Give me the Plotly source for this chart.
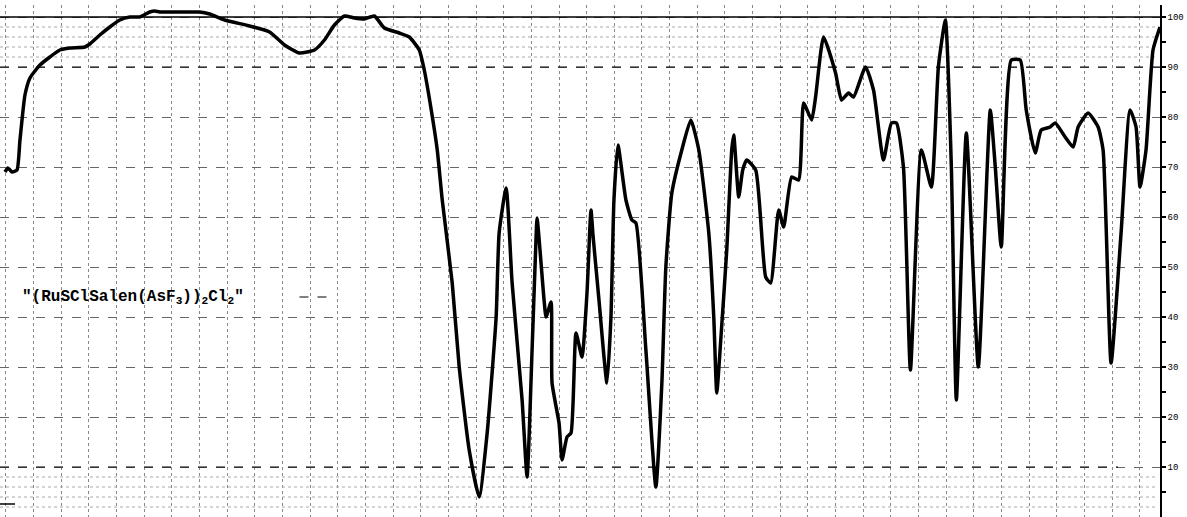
import plotly.graph_objects as go

# Position along the recorded scan (chart units, left -> right)
position = [5, 8, 12, 17, 20, 25, 30, 40, 50, 60, 70, 85, 90, 100, 110, 120, 130, 140, 150, 155,
            160, 180, 200, 210, 225, 250, 270, 285, 300, 315, 325, 335, 345, 355, 365, 375, 385,
            400, 410, 420, 425, 432, 438, 443, 453, 460, 470, 480, 488, 497, 500, 507, 513, 523,
            528, 533, 537, 538, 545, 547, 552, 553, 560, 563, 568, 572, 577, 583, 588, 592, 594,
            600, 608, 612, 615, 619, 627, 633, 637, 647, 657, 663, 667, 673, 683, 692, 700, 710,
            715, 718, 722, 728, 733, 735, 740, 744, 748, 757, 767, 772, 780, 785, 793, 800, 805,
            813, 817, 825, 837, 843, 850, 855, 867, 875, 885, 893, 898, 905, 912, 923, 933, 940,
            947, 953, 958, 968, 980, 992, 997, 1003, 1013, 1022, 1028, 1037, 1043, 1052, 1057,
            1067, 1075, 1080, 1090, 1100, 1105, 1113, 1123, 1132, 1138, 1142, 1148, 1155, 1162]

# Transmittance (%)
transmittance = [69.0, 69.8, 69.0, 69.4, 75.4, 84.4, 87.8, 90.4, 92.0, 93.4, 93.8, 94.0, 94.6, 96.4,
                 98.0, 99.4, 100.0, 100.0, 101.0, 101.2, 101.0, 101.0, 101.0, 100.6, 99.4, 98.2,
                 97.0, 94.4, 92.8, 93.4, 95.4, 98.4, 100.2, 99.8, 99.6, 100.2, 97.8, 96.8, 96.0,
                 93.4, 89.4, 81.4, 73.4, 63.4, 46.8, 30.0, 13.4, 4.0, 16.8, 40.0, 56.8, 65.8, 46.8,
                 23.4, 8.0, 33.4, 56.0, 59.8, 43.4, 40.0, 43.0, 26.8, 18.8, 11.4, 16.0, 16.8, 36.8,
                 32.0, 44.8, 61.4, 56.4, 43.4, 26.8, 40.0, 63.4, 74.4, 63.4, 59.4, 58.8, 33.4, 6.0,
                 26.8, 50.0, 64.8, 73.4, 79.4, 73.4, 56.8, 40.0, 24.8, 35.4, 53.4, 73.4, 76.4, 64.0,
                 69.4, 71.4, 69.4, 48.0, 46.8, 61.4, 58.0, 68.0, 67.4, 82.8, 79.4, 84.0, 96.0, 88.8,
                 83.4, 84.8, 84.0, 90.0, 85.4, 71.4, 78.8, 78.8, 70.0, 29.4, 73.4, 66.0, 90.0, 99.4,
                 70.0, 23.4, 76.8, 30.0, 81.4, 70.0, 54.0, 91.4, 91.4, 81.4, 72.8, 77.4, 78.0, 78.8,
                 76.0, 74.0, 78.0, 80.8, 78.0, 73.4, 30.8, 56.8, 81.4, 78.0, 66.0, 73.4, 93.4, 98.0]

tick_values = [10, 20, 30, 40, 50, 60, 70, 80, 90, 100]
tick_labels = ["10", "20", "30", "40", "50", "60", "70", "80", "90", "100"]
minor_tick_values = [5, 15, 25, 35, 45, 55, 65, 75, 85, 95]
label_text = '<b>"(RuSClSalen(AsF<sub>3</sub>))<sub>2</sub>Cl<sub>2</sub>"</b>'

fig = go.Figure()

# dotted bands near the top and bottom of the chart paper
for lvl in [92, 94, 96, 98, 2, 4, 6, 8]:
    fig.add_trace(go.Scatter(x=[0, 1160], y=[lvl, lvl], mode="lines",
                             line=dict(color="#aaa", width=1, dash="dot"),
                             hoverinfo="skip", showlegend=False))

fig.add_trace(go.Scatter(x=position, y=transmittance, mode="lines",
                         line=dict(color="black", width=3.5, shape="spline", smoothing=0.5),
                         showlegend=False))

fig.add_shape(type="line", x0=0, x1=1162, y0=100, y1=100, line=dict(color="black", width=1.5))
fig.add_shape(type="line", x0=0, x1=1120, y0=10, y1=10, line=dict(color="black", width=1.2, dash="dash"))
fig.add_shape(type="line", x0=0, x1=1162, y0=90, y1=90, line=dict(color="black", width=1.2, dash="dash"))
fig.add_shape(type="line", x0=300, x1=330, y0=44, y1=44, line=dict(color="black", width=1, dash="dash"))
fig.add_shape(type="line", x0=0, x1=15, y0=2.6, y1=2.6, line=dict(color="black", width=1.5))

fig.add_annotation(x=20, y=44, xanchor="left", yanchor="middle", text=label_text, showarrow=False,
                   font=dict(family="Liberation Mono", size=16, color="black"))

fig.update_layout(
    width=1187, height=517,
    margin=dict(l=0, r=27, t=5, b=0),
    paper_bgcolor="white", plot_bgcolor="white",
    xaxis=dict(range=[0, 1162], showticklabels=False, tick0=6, dtick=27.7,
               showgrid=True, gridcolor="#888", griddash="dot", gridwidth=1,
               zeroline=False, showline=False),
    yaxis=dict(range=[0, 102.4], side="right", tickvals=tick_values, ticktext=tick_labels,
               ticks="outside", ticklen=4, tickcolor="black", tickwidth=2,
               minor=dict(tickvals=minor_tick_values, ticks="outside",
                          ticklen=4, tickcolor="black", tickwidth=2, showgrid=False),
               showline=True, linecolor="black", linewidth=1.5,
               tickfont=dict(family="Liberation Mono", size=9, color="black"),
               showgrid=True, gridcolor="#666", griddash="dash", gridwidth=1,
               zeroline=False),
)

fig.write_html("out.html", config={"displayModeBar": False},
               post_script="document.body.style.margin='0';")
